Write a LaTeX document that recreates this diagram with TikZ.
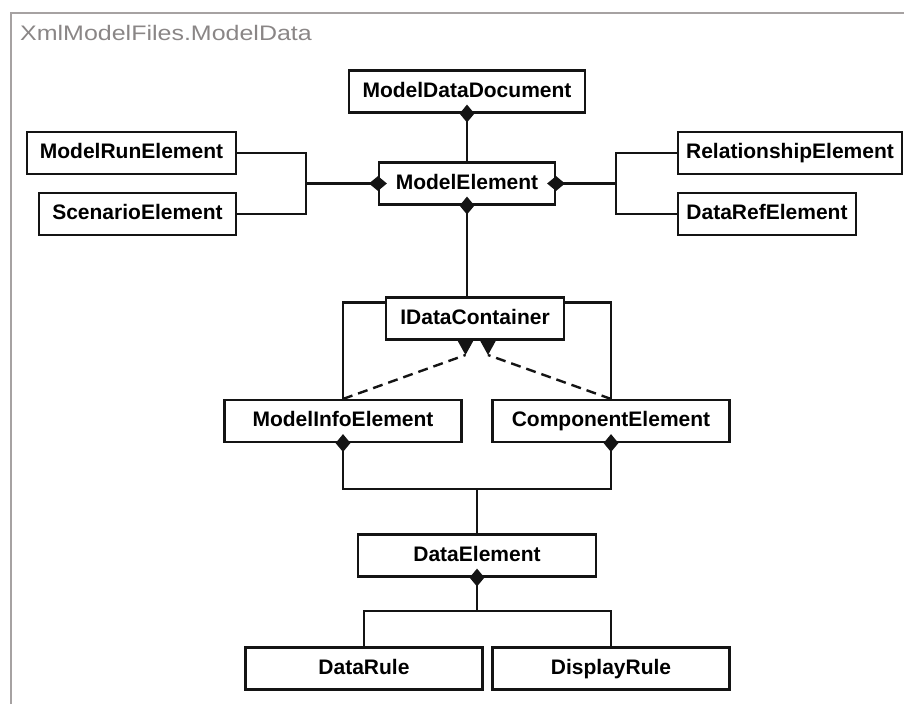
\documentclass[tikz,border=0pt]{standalone}
\usepackage{fontspec}
\usepackage{graphicx}
\setmainfont{Liberation Sans}
\usetikzlibrary{shapes.geometric}
\definecolor{framegray}{HTML}{A6A2A2}
\definecolor{titlegray}{HTML}{8A8686}
\definecolor{ink}{HTML}{141414}

\begin{document}
\begin{tikzpicture}[x=1pt,y=-1pt,
  cls/.style={draw=ink, line width=2.1pt, fill=white, inner sep=0pt,
    minimum height=42pt, text height=15pt, text depth=4pt,
    font=\fontsize{21}{24}\selectfont\bfseries},
  link/.style={draw=ink, line width=2.1pt},
  realize/.style={draw=ink, line width=2.4pt, dash pattern=on 10pt off 6pt},
  dmdv/.style={diamond, fill=ink, draw=none, inner sep=0pt,
    minimum width=15pt, minimum height=18pt},
  dmdh/.style={diamond, fill=ink, draw=none, inner sep=0pt,
    minimum width=18pt, minimum height=15pt},
]
\useasboundingbox (0,0) rectangle (904,704);

% package frame and caption
\draw[framegray, line width=2.5pt] (11,704) -- (11,13) -- (904,13);
\node[anchor=base west, inner sep=0pt, text=titlegray,
  font=\fontsize{21}{24}\selectfont] (title) at (20,40)
  {\scalebox{1.19}[1]{XmlModelFiles.ModelData}};

% classes
\node[cls, minimum width=236pt] (mdd)   at (467,91.5)  {ModelDataDocument};
\node[cls, minimum width=176pt] (me)    at (467,183.5) {ModelElement};
\node[cls, minimum width=209pt] (mre)   at (131.5,153) {ModelRunElement};
\node[cls, minimum width=197pt] (se)    at (137.5,214) {ScenarioElement};
\node[cls, minimum width=224pt] (re)    at (790,153)   {RelationshipElement};
\node[cls, minimum width=178pt] (dre)   at (767,214)   {DataRefElement};
\node[cls, minimum width=178pt] (idc)   at (475,318.5) {IDataContainer};
\node[cls, minimum width=237pt] (mie)   at (343,421)   {ModelInfoElement};
\node[cls, minimum width=237pt] (ce)    at (611,421)   {ComponentElement};
\node[cls, minimum width=238pt] (de)    at (477,555.5) {DataElement};
\node[cls, minimum width=237pt] (dr)    at (364,668.5) {DataRule};
\node[cls, minimum width=237pt] (dispr) at (611,668.5) {DisplayRule};

% junction points
\coordinate (jl) at (306,183.5);
\coordinate (jr) at (616,183.5);
\coordinate (jm) at (477,489);
\coordinate (jb) at (477,611);
\coordinate (tl) at (465.5,355);
\coordinate (tr) at (488,355);

% compositions
\draw[link] (mdd.south) -- (me.north);
\draw[link] (me.west) -- (jl);
\draw[link] (mre.east) -- (mre.east -| jl) -- (se.east -| jl) -- (se.east);
\draw[link] (me.east) -- (jr);
\draw[link] (re.west) -- (re.west -| jr) -- (dre.west -| jr) -- (dre.west);
\draw[link] (me.south) -- (me.south |- idc.north);
\draw[link] (mie.north) |- ([yshift=-6pt]idc.north west);
\draw[link] (ce.north) |- ([yshift=-6pt]idc.north east);
\draw[link] (mie.south) -- (mie.south |- jm) -- (ce.south |- jm) -- (ce.south);
\draw[link] (jm) -- (de.north);
\draw[link] (de.south) -- (jb);
\draw[link] (dr.north) -- (dr.north |- jb) -- (dispr.north |- jb) -- (dispr.north);

% realizations of IDataContainer
\draw[realize] (mie.north) -- (tl);
\draw[realize] (ce.north) -- (tr);
\fill[ink] (457.5,340.5) -- (473.5,340.5) -- (tl) -- cycle;
\fill[ink] (480,340.5) -- (496,340.5) -- (tr) -- cycle;

% composition diamonds
\node[dmdv] (d1) at (mdd.south) {};
\node[dmdh] (d2) at (me.west) {};
\node[dmdh] (d3) at (me.east) {};
\node[dmdv] (d4) at (me.south) {};
\node[dmdv] (d5) at (mie.south) {};
\node[dmdv] (d6) at (ce.south) {};
\node[dmdv] (d7) at (de.south) {};
\end{tikzpicture}
\end{document}
